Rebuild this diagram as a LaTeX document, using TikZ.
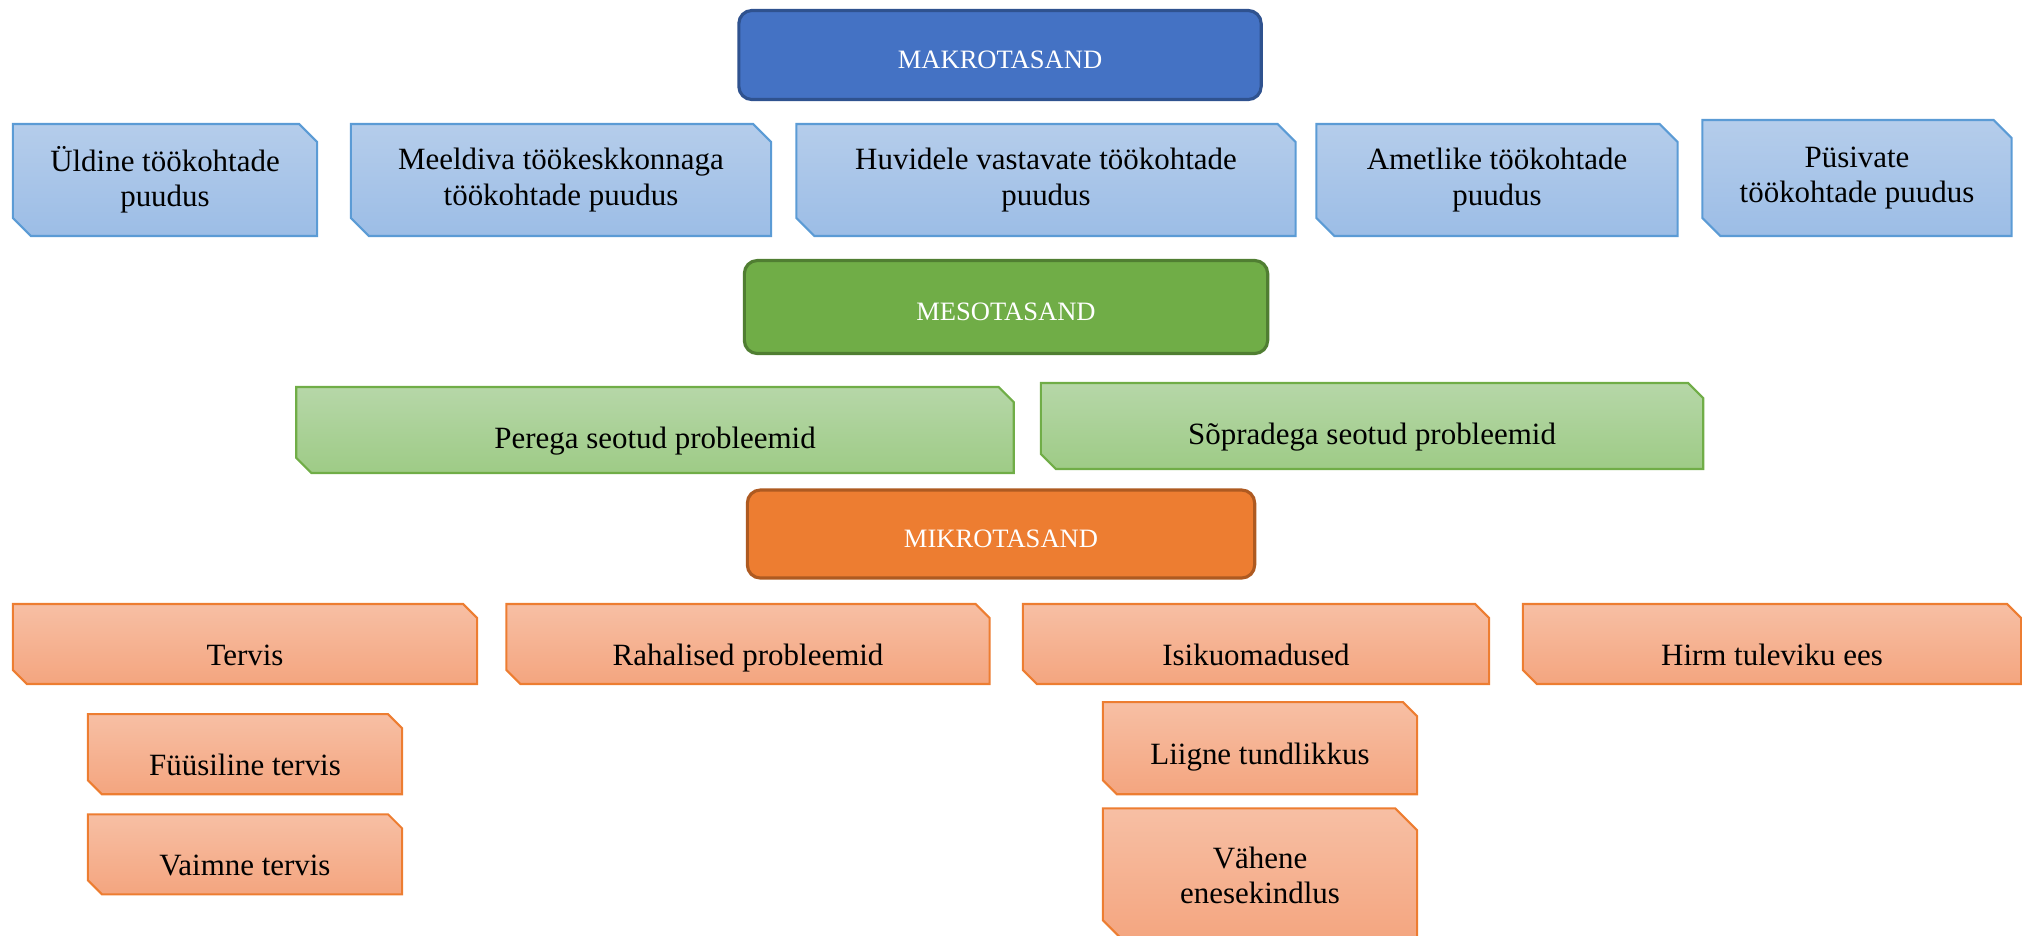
\documentclass[tikz,border=0pt]{standalone}
\usepackage{fontspec}
\setmainfont{Liberation Serif}
\usepackage{tikz}
\usetikzlibrary{shapes.misc, positioning}

\definecolor{makro}{HTML}{4472C4}
\definecolor{makroedge}{HTML}{2F528F}
\definecolor{bluetop}{HTML}{B5CDEB}
\definecolor{bluebot}{HTML}{9CBDE6}
\definecolor{blueedge}{HTML}{5B9BD5}
\definecolor{meso}{HTML}{70AD47}
\definecolor{mesoedge}{HTML}{507E32}
\definecolor{greentop}{HTML}{B6D7A8}
\definecolor{greenbot}{HTML}{9ECB86}
\definecolor{mikro}{HTML}{ED7D31}
\definecolor{mikroedge}{HTML}{AE5A21}
\definecolor{orangetop}{HTML}{F7BFA4}
\definecolor{orangebot}{HTML}{F4A57F}

\begin{document}
\begin{tikzpicture}[
    x=0.01cm, y=-0.01cm,
    node distance=0.2cm,
    every node/.style={font=\fontsize{8.8}{10}\selectfont},
    level/.style={draw=#1edge, fill=#1, rounded corners=0.13cm, line width=0.9pt,
        text=white, font=\fontsize{7.55}{9}\selectfont, align=center, lowtext=0.33cm},
    snipbox/.style={chamfered rectangle, chamfered rectangle corners={north east, south west},
        line width=0.6pt, align=center, inner sep=0pt},
    lowtext/.style={text height=#1, text depth=0.06cm},
    bluebox/.style={snipbox, draw=blueedge, top color=bluetop, bottom color=bluebot,
        chamfered rectangle xsep=0.09cm, chamfered rectangle ysep=0.09cm, minimum height=1.12cm},
    greenbox/.style={snipbox, draw=meso, top color=greentop, bottom color=greenbot,
        chamfered rectangle xsep=0.07cm, chamfered rectangle ysep=0.08cm, minimum height=0.86cm,
        lowtext=0.42cm},
    orangebox/.style={snipbox, draw=mikro, top color=orangetop, bottom color=orangebot,
        chamfered rectangle xsep=0.07cm, chamfered rectangle ysep=0.07cm, minimum height=0.80cm}
]
\useasboundingbox (0,0) rectangle (2022,935);

% Makro level
\node[level=makro, minimum width=5.22cm, minimum height=0.89cm] (makrotasand) at (1000,55) {MAKROTASAND};

\node[bluebox, minimum width=3.04cm] (yldine) at (165,180) {Üldine töökohtade\\puudus};
\node[bluebox, minimum width=4.20cm] (meeldiva) at (561,180) {Meeldiva töökeskkonnaga\\töökohtade puudus};
\node[bluebox, minimum width=4.99cm] (huvid) at (1046,180) {Huvidele vastavate töökohtade\\puudus};
\node[bluebox, minimum width=3.61cm] (ametlik) at (1497,180) {Ametlike töökohtade\\puudus};
\node[bluebox, minimum width=3.09cm, minimum height=1.16cm] (pysiv) at (1857,178) {Püsivate\\töökohtade puudus};

% Meso level
\node[level=meso, minimum width=5.23cm, minimum height=0.93cm] (mesotasand) at (1006,307) {MESOTASAND};

\node[greenbox, minimum width=7.17cm] (pere) at (655,430) {Perega seotud probleemid};
\node[greenbox, minimum width=6.62cm] (sobrad) at (1372,426) {Sõpradega seotud probleemid};

% Mikro level
\node[level=mikro, minimum width=5.07cm, minimum height=0.88cm] (mikrotasand) at (1001,534) {MIKROTASAND};

\node[orangebox, lowtext=0.48cm, minimum width=4.64cm] (tervis) at (245,644) {Tervis};
\node[orangebox, lowtext=0.48cm, minimum width=4.83cm] (raha) at (748,644) {Rahalised probleemid};
\node[orangebox, lowtext=0.48cm, minimum width=4.66cm] (isiku) at (1256,644) {Isikuomadused};
\node[orangebox, lowtext=0.48cm, minimum width=4.98cm] (hirm) at (1772,644) {Hirm tuleviku ees};

% Sub boxes
\node[orangebox, lowtext=0.48cm, minimum width=3.14cm, below=0.28cm of tervis] (fyysiline) {Füüsiline tervis};
\node[orangebox, lowtext=0.48cm, minimum width=3.14cm, below=0.18cm of fyysiline] (vaimne) {Vaimne tervis};
\node[orangebox, lowtext=0.38cm, minimum width=3.14cm, minimum height=0.92cm,
    xshift=0.04cm, below=0.16cm of isiku] (tundlik) {Liigne tundlikkus};
\node[orangebox, minimum width=3.14cm, minimum height=1.34cm,
    chamfered rectangle xsep=0.11cm, chamfered rectangle ysep=0.11cm,
    below=0.12cm of tundlik] (enesek) {Vähene\\enesekindlus};

\end{tikzpicture}
\end{document}
